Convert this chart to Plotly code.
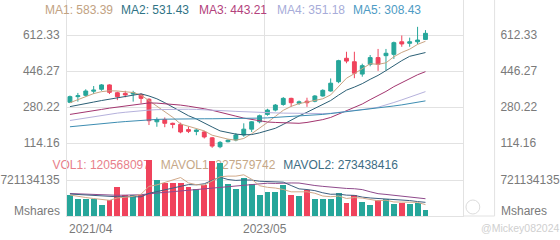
import plotly.graph_objects as go

# ---------------- data ----------------
date_labels = ["2021/04", "2023/05"]
date_index = [0, 25]

opens = [302, 328, 334, 353, 362, 382, 346, 343, 340, 337,
         316, 212, 222, 205, 200, 176, 167, 165, 138, 97,
         120, 128, 151, 178, 212, 246, 266, 292, 320, 297,
         307, 307, 331, 354, 397, 505, 489, 432, 477, 508,
         517, 523, 581, 574, 581, 592]
highs = [333, 345, 362, 377, 386, 385, 351, 355, 355, 343,
         320, 232, 232, 208, 208, 190, 178, 170, 142, 123,
         131, 160, 205, 215, 245, 272, 294, 326, 323, 310,
         323, 335, 362, 412, 498, 535, 535, 480, 520, 548,
         548, 582, 610, 600, 650, 635]
lows = [298, 305, 328, 340, 355, 340, 312, 325, 305, 297,
        197, 189, 187, 182, 159, 160, 150, 135, 92, 90,
        117, 122, 143, 165, 205, 240, 260, 286, 281, 290,
        281, 302, 328, 351, 390, 482, 413, 420, 468, 447,
        450, 502, 558, 558, 570, 590]
closes = [328, 332, 354, 358, 382, 348, 328, 336, 346, 320,
          217, 222, 205, 200, 165, 168, 174, 142, 100, 117,
          127, 151, 178, 212, 240, 266, 289, 320, 300, 304,
          300, 331, 357, 390, 494, 492, 436, 471, 508, 477,
          528, 577, 571, 581, 589, 620]

ma1 = [300, 315, 330, 342, 351, 355, 354, 350, 347, 335,
       309, 287, 261, 233, 202, 192, 182, 170, 150, 140,
       132, 127, 135, 157, 182, 209, 237, 265, 283, 296,
       303, 311, 318, 336, 374, 413, 434, 457, 480, 477,
       484, 512, 532, 547, 569, 583.39]
ma2 = [282, 288, 295, 303, 310, 316, 321, 326, 333, 341,
       331, 318, 300, 280, 260, 240, 225, 208, 188, 170,
       162, 155, 152, 153, 161, 171, 182, 200, 220, 239,
       256, 274, 292, 310, 335, 358, 372, 388, 408, 426,
       448, 473, 494, 514, 523, 531.43]
ma3 = [246, 251, 257, 263, 269, 275, 280, 285, 290, 296,
       299, 298, 296, 293, 289, 284, 279, 272, 265, 257,
       247, 238, 229, 222, 215, 211, 209, 208, 206, 205,
       209, 215, 222, 232, 248, 264, 277, 294, 314, 332,
       352, 374, 393, 412, 429, 443.21]
ma4 = [218, 224, 230, 236, 242, 247, 252, 256, 260, 263,
       266, 268, 269, 270, 270, 270, 269, 268, 266, 264,
       262, 260, 258, 256, 255, 254, 253, 252, 251, 251,
       250, 250, 250, 251, 255, 260, 263, 268, 273, 279,
       289, 301, 313, 326, 340, 351.18]
ma5 = [189, 193, 197, 200, 204, 207, 210, 213, 216, 219,
       221, 223, 224, 225, 225, 226, 226, 226, 226, 226,
       226, 227, 227, 228, 229, 230, 232, 234, 236, 238,
       240, 243, 246, 250, 254, 258, 262, 266, 270, 275,
       280, 285, 290, 296, 302, 308.43]

# volumes in millions of shares
volume_m = [415, 348, 348, 334, 214, 328, 581, 428, 415, 428,
            1116, 729, 669, 669, 669, 581, 549, 629, 1096, 1070,
            649, 549, 761, 649, 428, 481, 481, 615, 415, 401,
            515, 334, 334, 348, 469, 268, 428, 281, 228, 315,
            334, 248, 268, 248, 268, 120.568097]
mavol1_m = [420, 390, 370, 350, 332, 314, 361, 377, 393, 436,
            594, 623, 671, 722, 770, 663, 627, 619, 705, 785,
            799, 799, 825, 736, 607, 574, 560, 531, 484, 479,
            485, 456, 400, 386, 400, 351, 369, 359, 335, 304,
            317, 281, 279, 283, 273, 227.579742]
mavol2_m = [440, 430, 420, 405, 390, 380, 385, 388, 390, 384,
            454, 492, 524, 558, 603, 629, 625, 645, 714, 778,
            731, 713, 722, 720, 696, 686, 679, 678, 610, 543,
            530, 508, 465, 435, 439, 418, 413, 379, 361, 352,
            334, 325, 319, 309, 289, 273.438416]
mavol3_m = [450, 445, 440, 432, 420, 412, 415, 418, 420, 425,
            445, 460, 475, 490, 505, 520, 530, 545, 565, 581,
            593, 603, 623, 639, 650, 657, 652, 662, 662, 660,
            630, 611, 594, 578, 568, 552, 546, 529, 485, 447,
            432, 417, 392, 372, 364, 346]

price_ticks = [114.16, 280.22, 446.27, 612.33]
vol_tick = 721134135

# ---------------- styles ----------------
UP = "#26a69a"
DN = "#f0435c"
GRID = "#e2e2e2"
AXTXT = "#7a7a7a"
FONT = "Liberation Sans"

idx = list(range(len(closes)))
M = 1e6
volume = [v * M for v in volume_m]
mavol1 = [v * M for v in mavol1_m]
mavol2 = [v * M for v in mavol2_m]
mavol3 = [v * M for v in mavol3_m]

# pixel geometry (plot area 64..465 x, 0..216 y)
PX_L, PX_R, PX_B = 64, 465, 216
SPLIT = 152  # pixel row dividing price and volume panes
price_lo, price_hi = 72.63, 773.78
vol_hi = 1282.0e6
dom_split = (PX_B - SPLIT) / PX_B

fig = go.Figure()

fig.add_trace(go.Candlestick(
    x=idx, open=opens, high=highs, low=lows, close=closes,
    increasing=dict(line=dict(color=UP, width=1), fillcolor=UP),
    decreasing=dict(line=dict(color=DN, width=1), fillcolor=DN),
    whiskerwidth=0, xaxis="x", yaxis="y", showlegend=False, hoverinfo="skip"))

ma_sets = [("MA1", ma1, "#c9a483", "#c2a282"),
           ("MA2", ma2, "#2b5f75", "#2f7385"),
           ("MA3", ma3, "#a3356f", "#b3427c"),
           ("MA4", ma4, "#b5b1dc", "#a7acd9"),
           ("MA5", ma5, "#3d8db2", "#4d9bc4")]
for name, vals, lc, tc in ma_sets:
    fig.add_trace(go.Scatter(x=idx, y=vals, mode="lines", line=dict(color=lc, width=1),
                             xaxis="x", yaxis="y3", showlegend=False, hoverinfo="skip"))

# volume legend text (kept below the bars: lives on the base volume axis)
# anchored at each text's right end (pixel column)
vol_leg = [(f"VOL1: {round(volume[-1])}", "#e8808a", 148),
           (f"MAVOL1: {round(mavol1[-1])}", "#c6a888", 275),
           (f"MAVOL2: {round(mavol2[-1])}", "#3d6d84", 399)]
leg_y = (PX_B - 166) / 36 * vol_tick
for txt, col, px in vol_leg:
    fig.add_trace(go.Scatter(x=[(px - PX_L) / 8 - 0.375], y=[leg_y], mode="text", text=[txt],
                             textposition="middle left", cliponaxis=False,
                             textfont=dict(family=FONT, size=12, color=col),
                             xaxis="x", yaxis="y2", showlegend=False, hoverinfo="skip"))

bar_colors = [UP if c >= o else DN for o, c in zip(opens, closes)]
fig.add_trace(go.Bar(x=idx, y=volume, marker=dict(color=bar_colors, line=dict(width=0)),
                     width=0.75, xaxis="x", yaxis="y4", showlegend=False, hoverinfo="skip"))
for vals, col in [(mavol3, "#8f4a8c"), (mavol2, "#3f5f80"), (mavol1, "#d2aa8a")]:
    fig.add_trace(go.Scatter(x=idx, y=vals, mode="lines", line=dict(color=col, width=1),
                             xaxis="x", yaxis="y4", showlegend=False, hoverinfo="skip"))

ptxt = [f"{v:.2f}" for v in price_ticks]
common_y = dict(zeroline=False, showline=True, linecolor=GRID, linewidth=1,
                ticks="outside", tickcolor="rgba(0,0,0,0)",
                tickfont=dict(family=FONT, size=12, color=AXTXT), fixedrange=True)

annotations = []
ma_px = [41, 117, 195, 273, 349]
for (name, vals, lc, tc), px in zip(ma_sets, ma_px):
    annotations.append(dict(text=f"{name}: {vals[-1]:.2f}", xref="paper", yref="paper",
                            x=0, xshift=px - PX_L - 1, xanchor="left", y=1, yshift=-10,
                            yanchor="middle", showarrow=False,
                            font=dict(family=FONT, size=12, color=tc)))
ms_y = (PX_B - 211) / 36 * vol_tick
annotations.append(dict(text="Mshares", xref="paper", yref="y2", x=0, xshift=-5, xanchor="right",
                        y=ms_y, yanchor="middle", showarrow=False,
                        font=dict(family=FONT, size=12, color=AXTXT)))
annotations.append(dict(text="Mshares", xref="paper", yref="y2", x=1, xshift=36, xanchor="left",
                        y=ms_y, yanchor="middle", showarrow=False,
                        font=dict(family=FONT, size=12, color=AXTXT)))
annotations.append(dict(text="@Mickey082024", xref="paper", yref="paper", x=1, xshift=16,
                        xanchor="left", y=0, yshift=-11.5, yanchor="middle", showarrow=False,
                        font=dict(family=FONT, size=10.5, color="#cfcfcf")))
for lab, i in zip(date_labels, date_index):
    first = i == date_index[0]
    annotations.append(dict(text=lab, xref="x", yref="paper", x=i - 0.375,
                            xanchor="left" if first else "center",
                            y=0, yshift=-4, yanchor="top", showarrow=False,
                            font=dict(family=FONT, size=12, color=AXTXT)))

ext = (497 - PX_L) / (PX_R - PX_L)
shapes = [
    dict(type="line", xref="paper", yref="paper", x0=ext, x1=ext, y0=0, y1=1,
         line=dict(color=GRID, width=1)),
    dict(type="line", xref="paper", yref="paper", x0=1, x1=ext, y0=0, y1=0,
         line=dict(color=GRID, width=1)),
    dict(type="circle", xref="paper", yref="paper",
         x0=(468 - PX_L) / 401, x1=(482 - PX_L) / 401,
         y0=(PX_B - 214) / PX_B, y1=(PX_B - 200) / PX_B,
         line=dict(color="#dcdcdc", width=1)),
]

fig.update_layout(
    width=560, height=240, margin=dict(l=64, r=95, t=0, b=24),
    paper_bgcolor="white", plot_bgcolor="white",
    font=dict(family=FONT, size=12, color=AXTXT),
    showlegend=False, bargap=0,
    xaxis=dict(range=[-0.375, 49.75], domain=[0, 1], anchor="y2",
               tickvals=[i - 0.375 for i in date_index], showticklabels=False,
               showgrid=True, gridcolor=GRID, gridwidth=1, zeroline=False,
               showline=True, linecolor=GRID, ticks="", fixedrange=True,
               rangeslider=dict(visible=False)),
    yaxis=dict(domain=[dom_split, 1], range=[price_lo, price_hi], anchor="x",
               tickvals=price_ticks, ticktext=ptxt, showgrid=True, gridcolor=GRID,
               ticklen=4, side="left", **common_y),
    yaxis3=dict(overlaying="y", side="right", range=[price_lo, price_hi], anchor="x",
                tickvals=price_ticks, ticktext=ptxt, showgrid=False, ticklen=34, **common_y),
    yaxis2=dict(domain=[0, dom_split], range=[0, vol_hi], anchor="x",
                tickvals=[vol_tick], ticktext=[str(vol_tick)], showgrid=True, gridcolor=GRID,
                ticklen=4, side="left", **common_y),
    yaxis4=dict(overlaying="y2", side="right", range=[0, vol_hi], anchor="x",
                tickvals=[vol_tick], ticktext=[str(vol_tick)], showgrid=False, ticklen=34,
                **common_y),
    annotations=annotations,
    shapes=shapes,
)

fig.write_html("out.html")
